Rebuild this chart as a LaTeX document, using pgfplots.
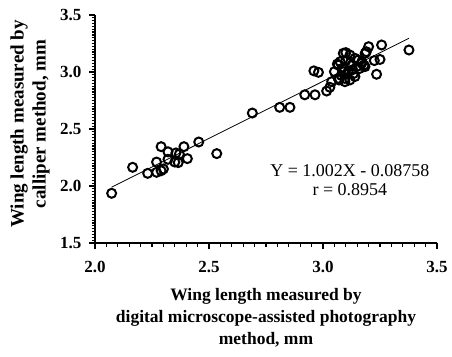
\documentclass[border=0pt]{standalone}
\usepackage{pgfplots}
\pgfplotsset{compat=1.18}
\usepackage{fontspec}
\setmainfont{Liberation Serif}
\begin{document}
\begin{tikzpicture}[x=1pt,y=1pt]
\useasboundingbox (0,0) rectangle (452,356);
\begin{axis}[
  at={(95pt,113pt)}, anchor=south west,
  scale only axis, width=342pt, height=228pt,
  xmin=2.0, xmax=3.5, ymin=1.5, ymax=3.5,
  axis x line=bottom, axis y line=left,
  axis line style={-, line width=1.4pt},
  xtick={2.0,2.5,3.0,3.5}, ytick={1.5,2.0,2.5,3.0,3.5},
  minor x tick num=9, minor y tick num=19,
  tick align=outside,
  major tick length=6pt, minor tick length=3.5pt,
  every tick/.style={line width=1.2pt, black},
  /pgf/number format/assume math mode=true,
  /pgf/number format/.cd, fixed, fixed zerofill, precision=1, /pgfplots/.cd,
  ticklabel style={font=\bfseries\fontsize{17}{17}\selectfont},
  xticklabel style={yshift=-9pt},
  yticklabel style={xshift=-4pt},
  clip=false,
]
\addplot[only marks, mark=o, mark size=4.5pt, mark options={line width=2pt, black}] coordinates {
(2.073,1.936) (2.165,2.164) (2.231,2.111) (2.27,2.12) (2.29,2.134) (2.30,2.149)
(2.27,2.21) (2.29,2.345) (2.32,2.30) (2.32,2.234) (2.35,2.21) (2.365,2.205)
(2.355,2.29) (2.37,2.28) (2.39,2.345) (2.405,2.24) (2.455,2.386) (2.534,2.284)
(2.69,2.64) (2.81,2.69) (2.855,2.69) (2.92,2.80) (2.965,2.80) (3.016,2.833)
(3.03,2.866) (2.96,3.01) (2.98,2.997) (3.235,2.98) (3.257,3.237) (3.20,3.222)
(3.19,3.178) (3.185,3.164) (3.225,3.10) (3.25,3.11) (3.089,3.164) (3.10,3.17)
(3.063,3.07) (3.05,3.003) (3.377,3.193) (3.067,3.06) (3.075,3.09) (3.118,3.149)
(3.082,3.03) (3.089,3.003) (3.038,2.915) (3.14,3.12) (3.155,3.105) (3.17,3.09)
(3.126,3.06) (3.148,3.047) (3.16,3.03) (3.11,3.003) (3.133,2.985) (3.096,2.944)
(3.118,2.93) (3.14,2.96) (3.067,2.944) (3.184,3.047) (3.07,2.93) (3.096,2.915)
(3.17,3.076) (3.18,3.06) (3.10,3.10) (3.12,3.08) (3.08,2.97) (3.13,3.02)
};
\addplot[black, line width=0.8pt] coordinates {(2.073,1.9895) (3.377,3.2962)};
\node[anchor=base, font=\fontsize{18}{18}\selectfont, inner sep=0pt] at (axis cs:3.118,2.079) {Y = 1.002X - 0.08758};
\node[anchor=base, font=\fontsize{18}{18}\selectfont, inner sep=0pt] at (axis cs:3.118,1.921) {r = 0.8954};
\end{axis}
\node[align=center, font=\bfseries\fontsize{17.5}{22}\selectfont, anchor=north, inner sep=0pt] at (266,356-288) {Wing length measured by\\digital microscope-assisted photography\\method, mm};
\node[align=center, font=\bfseries\fontsize{19}{22}\selectfont, rotate=90, inner sep=0pt] at (30,356-124) {Wing length measured by\\calliper method, mm};
\end{tikzpicture}
\end{document}
